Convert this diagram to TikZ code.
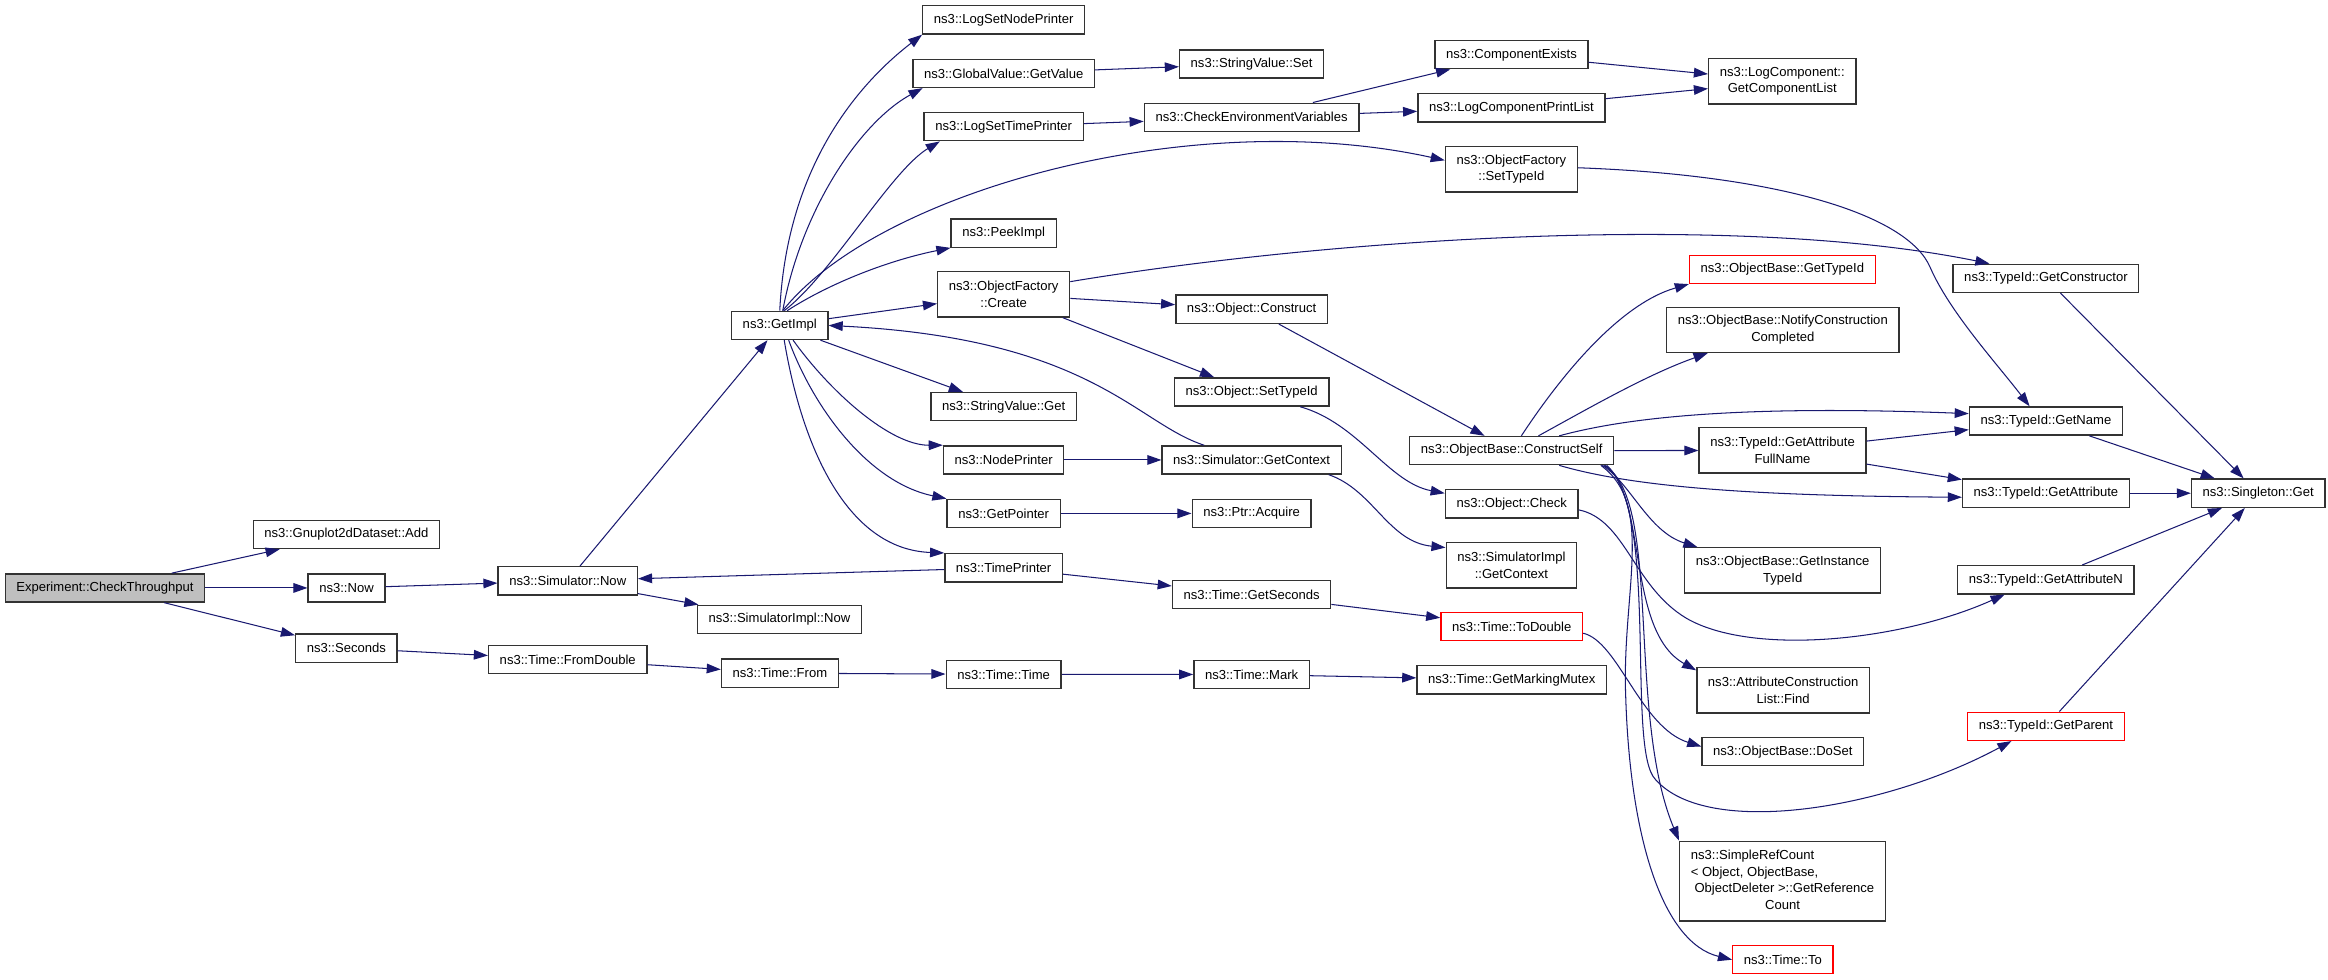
\documentclass[tikz,border=0pt]{standalone}
\usepackage{fontspec}
\setmainfont{Liberation Sans}
\usepackage{tikz, xcolor}
\usetikzlibrary{shapes,arrows,arrows.meta}
\definecolor{edgeblue}{HTML}{191970}
\newcommand{\fnfont}{\fontsize{8.8}{11.2}\selectfont}

\begin{document}
\begin{tikzpicture}[x=1pt, y=-1pt]
\tikzstyle{fnbox}=[rectangle, draw=black!80, line width=0.9pt, fill=white, minimum height=19pt, inner xsep=7.5pt, inner ysep=1pt, font=\fnfont]
\tikzstyle{fnred}=[fnbox, draw=red]
\tikzstyle{fnroot}=[fnbox, fill=black!25]
\tikzstyle{fntwo}=[fnbox, minimum height=30.5pt, align=center]
\tikzstyle{fnfour}=[fnbox, minimum height=53.8pt]
\tikzstyle{callstyle}=[draw=edgeblue, line width=0.7pt, -{Triangle[length=9.5pt, width=6.5pt]}]

\useasboundingbox (0,0) rectangle (1568,660);

\node[fnroot] (G0x0) at (70.7,396) {Experiment::CheckThroughput};
\node[fnbox] (G1x0) at (233.3,360) {ns3::Gnuplot2dDataset::Add};
\node[fnbox] (G1x1) at (233.4,396) {ns3::Now};
\node[fnbox] (G1x2) at (233.3,436.5) {ns3::Seconds};
\node[fnbox] (G2x0) at (382.4,391.2) {ns3::Simulator::Now};
\node[fnbox] (G2x1) at (382.4,444.3) {ns3::Time::FromDouble};
\node[fnbox] (G3x0) at (525.2,219.2) {ns3::GetImpl};
\node[fnbox] (G3x1) at (525,417.2) {ns3::SimulatorImpl::Now};
\node[fnbox] (G3x2) at (525.3,453.4) {ns3::Time::From};
\node[fnbox] (G4x0) at (676,13.4) {ns3::LogSetNodePrinter};
\node[fnbox] (G4x1) at (676,49.4) {ns3::GlobalValue::GetValue};
\node[fnbox] (G4x2) at (676,85.3) {ns3::LogSetTimePrinter};
\node[fnbox] (G4x3) at (676,157) {ns3::PeekImpl};
\node[fntwo] (G4x4) at (676,198.3) {ns3::ObjectFactory\\::Create};
\node[fnbox] (G4x5) at (676,273.9) {ns3::StringValue::Get};
\node[fnbox] (G4x6) at (676,309.8) {ns3::NodePrinter};
\node[fnbox] (G4x7) at (676,345.8) {ns3::GetPointer};
\node[fnbox] (G4x8) at (676,382.4) {ns3::TimePrinter};
\node[fnbox] (G4x9) at (676,454.2) {ns3::Time::Time};
\node[fnbox] (G5x0) at (843,43.1) {ns3::StringValue::Set};
\node[fnbox] (G5x1) at (843,79) {ns3::CheckEnvironmentVariables};
\node[fnbox] (G5x2) at (843,208.3) {ns3::Object::Construct};
\node[fnbox] (G5x3) at (843,264) {ns3::Object::SetTypeId};
\node[fnbox] (G5x4) at (843,309.8) {ns3::Simulator::GetContext};
\node[fnbox] (G5x5) at (843,345.8) {ns3::Ptr::Acquire};
\node[fnbox] (G5x6) at (843,400.5) {ns3::Time::GetSeconds};
\node[fnbox] (G5x7) at (843,454.3) {ns3::Time::Mark};
\node[fnbox] (G6x0) at (1018,36.8) {ns3::ComponentExists};
\node[fnbox] (G6x1) at (1018,72.7) {ns3::LogComponentPrintList};
\node[fntwo] (G6x2) at (1018,114) {ns3::ObjectFactory\\::SetTypeId};
\node[fnbox] (G6x3) at (1018.2,303.5) {ns3::ObjectBase::ConstructSelf};
\node[fnbox] (G6x4) at (1018.2,339.4) {ns3::Object::Check};
\node[fntwo] (G6x5) at (1018,380.7) {ns3::SimulatorImpl\\::GetContext};
\node[fnred] (G6x6) at (1018.2,422) {ns3::Time::ToDouble};
\node[fnbox] (G6x7) at (1018.2,457.9) {ns3::Time::GetMarkingMutex};
\node[fntwo] (G7x0) at (1200.4,54.8) {ns3::LogComponent::\\GetComponentList};
\node[fnred] (G7x1) at (1200.5,181.4) {ns3::ObjectBase::GetTypeId};
\node[fntwo] (G7x2) at (1200.8,222.2) {ns3::ObjectBase::NotifyConstruction\\Completed};
\node[fntwo] (G7x3) at (1200.6,303.4) {ns3::TypeId::GetAttribute\\FullName};
\node[fntwo] (G7x4) at (1200.7,384.2) {ns3::ObjectBase::GetInstance\\TypeId};
\node[fntwo] (G7x5) at (1201,465) {ns3::AttributeConstruction\\List::Find};
\node[fnbox] (G7x6) at (1200.8,506.3) {ns3::ObjectBase::DoSet};
\node[fnfour] (G7x7) at (1200.6,593.5) {\begin{tabular}{@{}l@{}}ns3::SimpleRefCount\\< Object, ObjectBase,\\\hspace*{2.5pt}ObjectDeleter >::GetReference\\\multicolumn{1}{@{}c@{}}{Count}\end{tabular}};
\node[fnred] (G7x8) at (1200.8,646.4) {ns3::Time::To};
\node[fnbox] (G8x0) at (1378,187.5) {ns3::TypeId::GetConstructor};
\node[fnbox] (G8x1) at (1378,283.6) {ns3::TypeId::GetName};
\node[fnbox] (G8x2) at (1378,332.2) {ns3::TypeId::GetAttribute};
\node[fnbox] (G8x3) at (1378,390.5) {ns3::TypeId::GetAttributeN};
\node[fnred] (G8x4) at (1378,489.2) {ns3::TypeId::GetParent};
\node[fnbox] (G9x0) at (1521,332.2) {ns3::Singleton::Get};

\draw[callstyle] (G0x0) -- (G1x0);
\draw[callstyle] (G0x0) -- (G1x1);
\draw[callstyle] (G0x0) -- (G1x2);
\draw[callstyle] (G1x1) -- (G2x0);
\draw[callstyle] (G1x2) -- (G2x1);
\draw[callstyle] (G2x0) -- (G3x0);
\draw[callstyle] (G2x0) -- (G3x1);
\draw[callstyle] (G2x1) -- (G3x2);
\draw[callstyle] (G3x2) -- (G4x9);
\draw[callstyle] (G4x9) -- (G5x7);
\draw[callstyle] (G5x7) -- (G6x7);
\draw[callstyle] (G3x0.north) .. controls (530,110) and (580,55) .. (G4x0.south west);
\draw[callstyle] ([xshift=2pt]G3x0.north) .. controls (540,140) and (580,82) .. ([xshift=7pt]G4x1.south west);
\draw[callstyle] ([xshift=3pt]G3x0.north) .. controls (560,185) and (600,115) .. ([xshift=11pt]G4x2.south west);
\draw[callstyle] ([xshift=5pt]G3x0.north) .. controls (560,190) and (600,175) .. (G4x3.south west);
\draw[callstyle] ([xshift=2pt]G3x0.north) .. controls (590,130) and (800,70) .. ([yshift=6pt]G6x2.west);
\draw[callstyle] (G3x0) -- (G4x4);
\draw[callstyle] (G3x0) -- (G4x5);
\draw[callstyle] ([xshift=9pt]G3x0.south) .. controls (560,265) and (600,300) .. (G4x6.north west);
\draw[callstyle] ([xshift=6pt]G3x0.south) .. controls (548,275) and (585,325) .. (G4x7.north west);
\draw[callstyle] ([xshift=3pt]G3x0.south) .. controls (540,300) and (570,370) .. (G4x8.north west);
\draw[callstyle] ([xshift=-32pt]G5x4.north) .. controls (765,285) and (735,228) .. (G3x0.east);
\draw[callstyle] (G4x8) -- (G2x0);
\draw[callstyle] (G4x1) -- (G5x0);
\draw[callstyle] (G4x2) -- (G5x1);
\draw[callstyle] (G5x1) -- (G6x0);
\draw[callstyle] (G5x1) -- (G6x1);
\draw[callstyle] (G6x0) -- (G7x0);
\draw[callstyle] (G6x1) -- (G7x0);
\draw[callstyle] ([yshift=8.6pt]G4x4.east) .. controls (900,160) and (1170,143) .. ([xshift=-38pt]G8x0.north);
\draw[callstyle] (G4x4) -- (G5x2);
\draw[callstyle] (G4x4) -- (G5x3);
\draw[callstyle] (G5x2) -- (G6x3);
\draw[callstyle] (G4x6) -- (G5x4);
\draw[callstyle] (G4x7) -- (G5x5);
\draw[callstyle] (G4x8) -- (G5x6);
\draw[callstyle] (G5x6) -- (G6x6);
\draw[callstyle] ([xshift=32.7pt]G5x3.south) .. controls (915,285) and (935,325) .. (G6x4.171);
\draw[callstyle] ([xshift=52pt]G5x4.south) .. controls (925,330) and (935,365) .. (G6x5.165);
\draw[callstyle] ([yshift=1pt]G6x2.east) .. controls (1200,118) and (1285,145) .. (1300,180) .. controls (1313,210) and (1345,245) .. ([xshift=-11pt]G8x1.north);
\draw[callstyle] ([xshift=6.5pt]G6x3.north) .. controls (1050,255) and (1090,205) .. (G7x1.south west);
\draw[callstyle] ([xshift=18pt]G6x3.north) .. controls (1070,275) and (1110,252) .. ([xshift=28pt]G7x2.south west);
\draw[callstyle] ([xshift=32pt]G6x3.north) .. controls (1100,280) and (1180,273) .. ([yshift=5pt]G8x1.west);
\draw[callstyle] (G6x3) -- (G7x3);
\draw[callstyle] ([xshift=32pt]G6x3.south) .. controls (1100,328) and (1180,334) .. ([yshift=-2.7pt]G8x2.west);
\draw[callstyle] ([xshift=61pt]G6x3.south) .. controls (1098,325) and (1110,358) .. ([xshift=9pt]G7x4.north west);
\draw[callstyle] ([xshift=63pt]G6x3.south) .. controls (1110,335) and (1095,425) .. (G7x5.167);
\draw[callstyle] ([xshift=62pt]G6x3.south) .. controls (1120,335) and (1095,480) .. (G7x7.north west);
\draw[callstyle] ([xshift=60pt]G6x3.south) .. controls (1115,340) and (1092,400) .. (1095,470) .. controls (1098,565) and (1120,635) .. (G7x8.west);
\draw[callstyle] ([xshift=64pt]G6x3.south) .. controls (1118,345) and (1095,505) .. (1115,525) .. controls (1150,565) and (1270,545) .. ([xshift=30pt]G8x4.south west);
\draw[callstyle] ([yshift=-4pt]G6x4.east) .. controls (1095,350) and (1100,395) .. (1135.8,416.4) .. controls (1180,442) and (1280,432) .. ([xshift=32pt]G8x3.south west);
\draw[callstyle] ([yshift=-4.5pt]G6x6.east) .. controls (1090,432) and (1105,490) .. ([yshift=3.5pt]G7x6.west);
\draw[callstyle] (G7x3) -- (G8x1);
\draw[callstyle] (G7x3) -- (G8x2);
\draw[callstyle] (G8x0) -- (G9x0);
\draw[callstyle] (G8x1) -- (G9x0);
\draw[callstyle] (G8x2) -- (G9x0);
\draw[callstyle] (G8x3) -- (G9x0);
\draw[callstyle] (G8x4) -- (G9x0);
\end{tikzpicture}
\end{document}
